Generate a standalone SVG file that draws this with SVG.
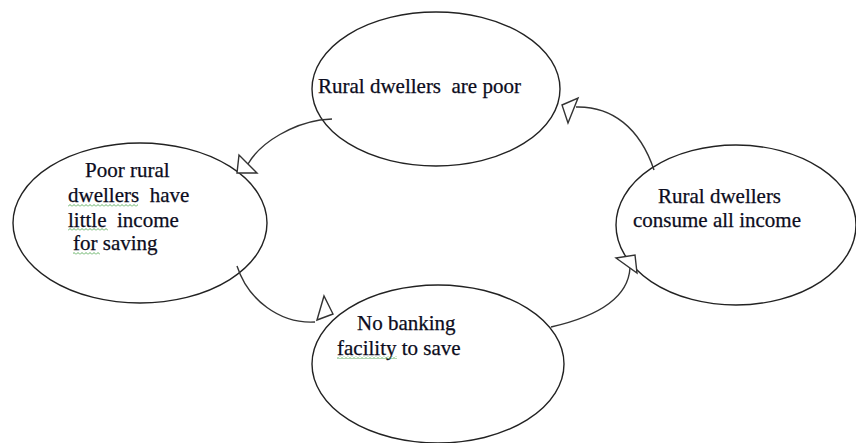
<svg xmlns="http://www.w3.org/2000/svg" width="856" height="443" viewBox="0 0 856 443">
<style>
.node ellipse{fill:#fff;stroke:#222;stroke-width:1.4}
.lbl{font-family:"Liberation Serif","Times New Roman",serif;font-size:21px;fill:#0c0c20;stroke:#0c0c20;stroke-width:0.25;white-space:pre}
.conn path{fill:none;stroke:#333;stroke-width:1.4}
.conn polygon{fill:#fff;stroke:#333;stroke-width:1.4;stroke-linejoin:miter}
.sq{fill:url(#zig);stroke:none}
</style>
<defs>
<pattern id="zig" patternUnits="userSpaceOnUse" x="0" y="0" width="4" height="3">
<polyline points="0,2.5 2,0.5 4,2.5" fill="none" stroke="#3a9a3a" stroke-width="0.8"/>
</pattern>
</defs>
<rect width="856" height="443" fill="#fff"/>
<g id="n-poor" class="node">
<ellipse cx="436" cy="89" rx="124" ry="77"/>
<text class="lbl" x="318" y="93" xml:space="preserve">Rural dwellers  are poor</text>
</g>
<g id="n-little" class="node">
<ellipse cx="140" cy="223" rx="127" ry="80"/>
<text class="lbl" x="85" y="177">Poor rural</text>
<text class="lbl" x="68" y="202" xml:space="preserve">dwellers  have</text>
<text class="lbl" x="68" y="227" xml:space="preserve">little  income</text>
<text class="lbl" x="73" y="250">for saving</text>
<rect class="sq" x="68" y="204" width="70" height="3"/>
<rect class="sq" x="68" y="228" width="40" height="3"/>
<rect class="sq" x="73" y="252" width="27" height="3"/>
</g>
<g id="n-bank" class="node">
<ellipse cx="438" cy="364" rx="126" ry="79"/>
<text class="lbl" x="357" y="330">No banking</text>
<text class="lbl" x="337" y="355">facility to save</text>
<rect class="sq" x="337" y="356" width="60" height="3"/>
</g>
<g id="n-consume" class="node">
<ellipse cx="736" cy="225" rx="120" ry="80"/>
<text class="lbl" x="658" y="203">Rural dwellers</text>
<text class="lbl" x="633" y="227">consume all income</text>
</g>
<g id="connectors" class="conn">
<path d="M332,119 L320,120 C295,124 262,140 248,164"/>
<polygon points="237,173 239,155 257,173"/>
<path d="M237,266 C248,300 280,324 315,322"/>
<polygon points="317,320 324,296 333,314"/>
<path d="M551,327 C595,317 628,300 630,268"/>
<polygon points="616,258 635,255 637,273"/>
<path d="M654,170 C640,128 612,106 576,107"/>
<polygon points="562,105 578,98 568,123"/>
</g>
</svg>
